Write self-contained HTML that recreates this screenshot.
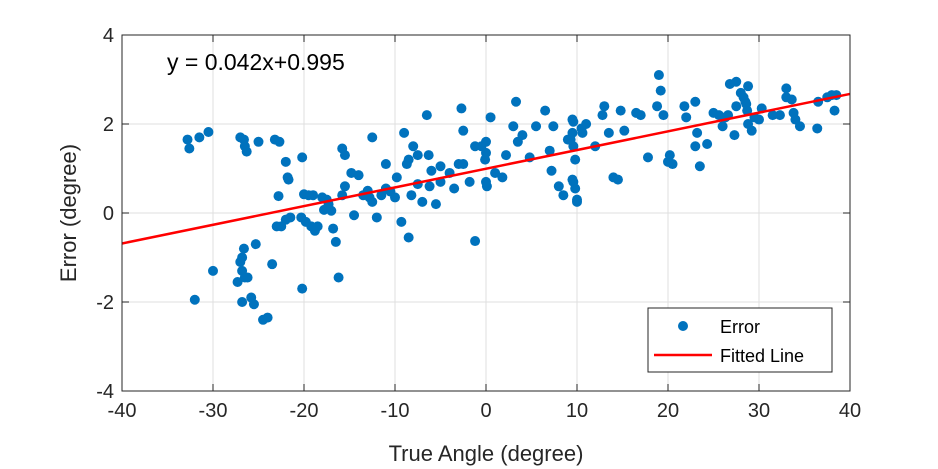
<!DOCTYPE html>
<html><head><meta charset="utf-8"><style>
html,body{margin:0;padding:0;background:#fff;}
svg{display:block;font-family:"Liberation Sans",Arial,sans-serif;}
</style></head><body>
<svg id="chart" width="938" height="469" xmlns="http://www.w3.org/2000/svg"></svg>
<script>
const xTicks=[-40,-30,-20,-10,0,10,20,30,40];
const yTicks=[-4,-2,0,2,4];
const errX=[-32.8,-32.6,-31.5,-30.5,-27,-26.6,-26.5,-26.3,-25,-23.2,-22.7,-22,-21.8,-21.7,-20.2,-20,-19.5,-22.8,-23,-22,-21.5,-20.3,-19.8,-19.2,-18.8,-18.5,-17.8,-17.5,-17,-16.8,-16.5,-15.8,-15.5,-15.5,-15.8,-14.5,-13.5,-14,-12.5,-12.8,-12.5,-12,-11.5,-11,-11,-10.5,-10,-9.8,-9.3,-9,-8.5,-8.7,-8.2,-8.5,-8,-7.5,-7.5,-7,-6.5,-6.3,-6,-6.2,-5.5,-5,-5,-4,-3.5,-3,-2.7,-2.5,-2.5,-1.8,-1.2,-1.2,-0.5,0,0,-0.1,0,0.1,0.5,1,1.8,2.2,3,3.3,3.5,4,4.8,5.5,6.5,7,7.4,7.2,8,8.5,9,9.5,9.6,9.5,9.6,9.8,9.5,9.6,9.8,10,10,9.3,10.5,10.6,11,12,12.8,13,13.5,14,14.5,14.8,15.2,16.5,17,17.8,18.8,19,19.2,19.5,20,20.5,20.2,22,21.8,23,23.2,23.5,23,24.3,25,25.6,26,26.3,26.6,26.8,27.5,27.5,27.3,28,28.3,28.6,28.8,28.5,28.7,28.8,29.2,29.5,30.3,30,31.5,32.3,33,33,33.6,33.8,34,34.5,36.4,37.5,38,38.3,38.5,36.5,-32,-30,-27.3,-27,-26.8,-26.8,-26.5,-26.2,-26.6,-25.3,-26.8,-25.8,-25.5,-24.5,-24,-23.5,-20.2,-16.2,-22.5,-19,-18,-17.3,-13,-14.8];
const errY=[1.65,1.45,1.7,1.82,1.7,1.65,1.5,1.38,1.6,1.65,1.6,1.15,0.8,0.75,1.25,0.42,0.4,0.38,-0.3,-0.15,-0.1,-0.1,-0.2,-0.3,-0.4,-0.3,0.07,0.3,0.05,-0.35,-0.65,1.45,1.3,0.6,0.4,-0.05,0.4,0.85,1.7,0.35,0.25,-0.1,0.4,1.1,0.55,0.48,0.35,0.8,-0.2,1.8,1.2,1.1,0.4,-0.55,1.5,1.3,0.65,0.25,2.2,1.3,0.95,0.6,0.2,1.05,0.7,0.9,0.55,1.1,2.35,1.85,1.1,0.7,1.5,-0.63,1.5,1.6,1.35,1.2,0.7,0.6,2.15,0.9,0.8,1.3,1.95,2.5,1.6,1.75,1.25,1.95,2.3,1.4,1.95,0.95,0.6,0.4,1.65,2.1,2.05,1.8,1.5,1.2,0.75,0.7,0.55,0.3,0.25,1.65,1.9,1.8,2,1.5,2.2,2.4,1.8,0.8,0.75,2.3,1.85,2.25,2.2,1.25,2.4,3.1,2.75,2.2,1.15,1.1,1.3,2.15,2.4,1.5,1.8,1.05,2.5,1.55,2.25,2.2,1.95,2.15,2.2,2.9,2.95,2.4,1.75,2.7,2.6,2.45,2.85,2.5,2.3,2.0,1.85,2.15,2.35,2.1,2.2,2.2,2.8,2.6,2.55,2.25,2.1,1.95,1.9,2.6,2.65,2.3,2.65,2.5,-1.95,-1.3,-1.55,-1.1,-1.0,-1.3,-1.45,-1.45,-0.8,-0.7,-2.0,-1.9,-2.05,-2.4,-2.35,-1.15,-1.7,-1.45,-0.3,0.4,0.35,0.2,0.5,0.9];
const slope=[0.042];
const intercept=[0.995];

const L=122,R=850,T=35,B=391,xmin=-40,xmax=40,ymin=-4,ymax=4;
const sx=v=>L+(v-xmin)/(xmax-xmin)*(R-L);
const sy=v=>B-(v-ymin)/(ymax-ymin)*(B-T);
const svg=document.getElementById('chart');
const NS='http://www.w3.org/2000/svg';
function mk(tag,attrs,parent){const e=document.createElementNS(NS,tag);for(const k in attrs)e.setAttribute(k,attrs[k]);(parent||svg).appendChild(e);return e;}

const grid=mk('g',{});


xTicks.forEach(t=>{mk('line',{x1:sx(t),x2:sx(t),y1:T,y2:B,stroke:'#dfdfdf','stroke-width':1},grid);});
yTicks.forEach(t=>{mk('line',{x1:L,x2:R,y1:sy(t),y2:sy(t),stroke:'#dfdfdf','stroke-width':1},grid);});

const pts=mk('g',{fill:'#0072bd'});


for(let i=0;i<errX.length;i++){
  const c=mk('circle',{cx:sx(errX[i]),cy:sy(errY[i]),r:5},pts);
  
  
}
const fl=mk('line',{x1:sx(xmin),y1:sy(slope[0]*xmin+intercept[0]),x2:sx(xmax),y2:sy(slope[0]*xmax+intercept[0]),stroke:'#ff0000','stroke-width':2.5});



const box=mk('rect',{x:L,y:T,width:R-L,height:B-T,fill:'none',stroke:'#262626','stroke-width':1});



const ax=mk('g',{fill:'#262626','font-size':'20'});


xTicks.forEach(t=>{
  mk('line',{x1:sx(t),x2:sx(t),y1:B,y2:B-7,stroke:'#262626'},ax);
  mk('line',{x1:sx(t),x2:sx(t),y1:T,y2:T+7,stroke:'#262626'},ax);
  const tx=mk('text',{x:sx(t),y:B+26,'text-anchor':'middle'},ax);tx.textContent=t;
  
  
});
yTicks.forEach(t=>{
  mk('line',{x1:L,x2:L+7,y1:sy(t),y2:sy(t),stroke:'#262626'},ax);
  mk('line',{x1:R,x2:R-7,y1:sy(t),y2:sy(t),stroke:'#262626'},ax);
  const tx=mk('text',{x:L-8,y:sy(t)+7,'text-anchor':'end'},ax);tx.textContent=t;
  
  
});
</script>
<svg style="position:absolute;left:0;top:0" width="938" height="469">
<text x="486" y="461" text-anchor="middle" font-size="22" fill="#262626" font-family="Liberation Sans, sans-serif">True Angle (degree)</text>
<text transform="translate(76,213) rotate(-90)" text-anchor="middle" font-size="22" fill="#262626" font-family="Liberation Sans, sans-serif">Error (degree)</text>
<text x="167" y="70" font-size="23" fill="#000" font-family="Liberation Sans, sans-serif">y = 0.042x+0.995</text>
<g>
<rect x="648" y="308" width="184" height="64" fill="#fff" stroke="#262626" stroke-width="1"/>
<circle cx="683" cy="326" r="5" fill="#0072bd"/>
<text x="720" y="333" font-size="18" fill="#000" font-family="Liberation Sans, sans-serif">Error</text>
<line x1="654" y1="355" x2="712" y2="355" stroke="#ff0000" stroke-width="2.5"/>
<text x="720" y="362" font-size="18" fill="#000" font-family="Liberation Sans, sans-serif">Fitted Line</text>
</g>
</svg>
</body></html>
